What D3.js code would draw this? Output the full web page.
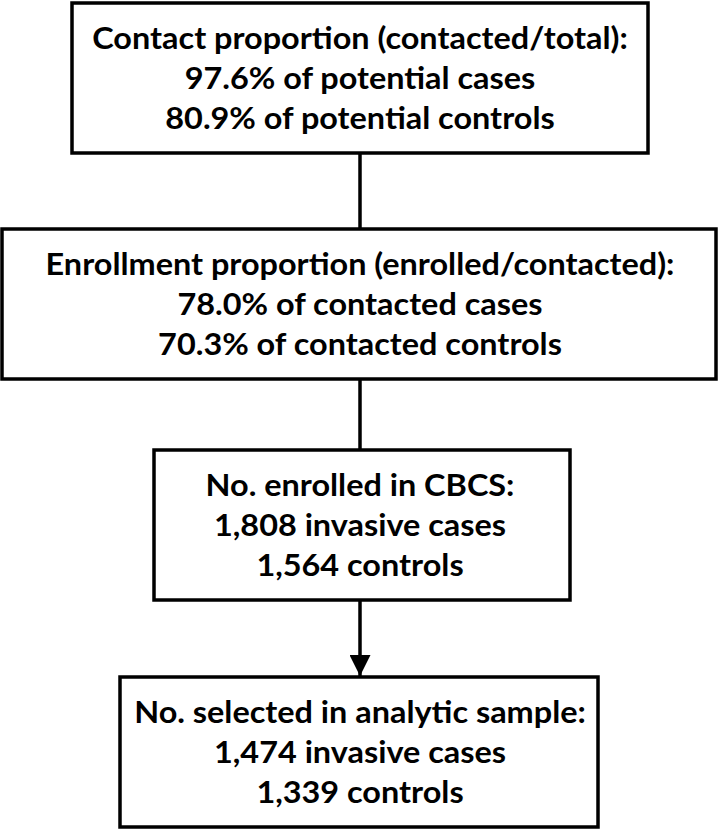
<!DOCTYPE html>
<html>
<head>
<meta charset="utf-8">
<script src="https://cdn.jsdelivr.net/npm/d3@7"></script>
<style>
  body { margin: 0; background: #fff; }
  svg { display: block; }
</style>
</head>
<body>
<div id="chart"></div>
<script>
// Flowchart content
let boxTitles = [
  "Contact proportion (contacted/total):",
  "Enrollment proportion (enrolled/contacted):",
  "No. enrolled in CBCS:",
  "No. selected in analytic sample:"
];
let boxLine2 = [
  "97.6% of potential cases",
  "78.0% of contacted cases",
  "1,808 invasive cases",
  "1,474 invasive cases"
];
let boxLine3 = [
  "80.9% of potential controls",
  "70.3% of contacted controls",
  "1,564 controls",
  "1,339 controls"
];
// connector type between box i and i+1
let links = ["line", "line", "arrow"];

let width = 720, height = 832;

// box geometry (layout)
let boxLeft = [72, 2, 154, 120];
let boxRight = [648, 716, 570, 598];
let boxTop = [3, 229, 450, 677];
let boxH = 150;
let cx = 360;

let svg = d3.select("#chart")
  .append("svg")
  .attr("width", width)
  .attr("height", height);

svg.append("defs").append("marker")
  .attr("id", "head")
  .attr("viewBox", "0 0 10 10")
  .attr("refX", 10)
  .attr("refY", 5)
  .attr("markerWidth", 6)
  .attr("markerHeight", 6)
  .attr("markerUnits", "strokeWidth")
  .attr("orient", "auto")
  .append("path")
  .attr("d", "M0,0 L10,5 L0,10 Z")
  .attr("fill", "#000");

// connectors
svg.selectAll("line.link")
  .data(links)
  .enter()
  .append("line")
  .attr("class", "link")
  .attr("x1", cx)
  .attr("x2", cx)
  .attr("y1", (d, i) => boxTop[i] + boxH)
  .attr("y2", (d, i) => d == "arrow" ? boxTop[i + 1] - 1 : boxTop[i + 1])
  .attr("stroke", "#000")
  .attr("stroke-width", 3.5)
  .attr("marker-end", d => d == "arrow" ? "url(#head)" : null);

// boxes
let boxes = svg.selectAll("g.box")
  .data(boxTitles)
  .enter()
  .append("g")
  .attr("class", "box");

boxes.append("rect")
  .attr("x", (d, i) => boxLeft[i])
  .attr("y", (d, i) => boxTop[i])
  .attr("width", (d, i) => boxRight[i] - boxLeft[i])
  .attr("height", boxH)
  .attr("fill", "#fff")
  .attr("stroke", "#000")
  .attr("stroke-width", 3.5);

let fontSize = 30;
let offsets = [46, 86, 126];

let txt = boxes.selectAll("text")
  .data((d, i) => [d, boxLine2[i], boxLine3[i]].map((t, j) => ({ t: t, j: j, b: i })))
  .enter()
  .append("text")
  .attr("text-anchor", "middle")
  .attr("font-family", "Lato, 'Open Sans', sans-serif")
  .attr("font-weight", 700)
  .attr("font-size", fontSize)
  .attr("fill", "#000")
  .text(d => d.t);

// squeeze to a Calibri-like width, measured on the title of box 4
let probe = txt.filter(d => d.b == 3 && d.j == 0).node();
let sx = 452 / probe.getComputedTextLength();

txt.attr("transform", d => {
  let y = boxTop[d.b] + offsets[d.j];
  return "translate(" + cx + "," + y + ") scale(" + sx + ",1)";
});
</script>
</body>
</html>
